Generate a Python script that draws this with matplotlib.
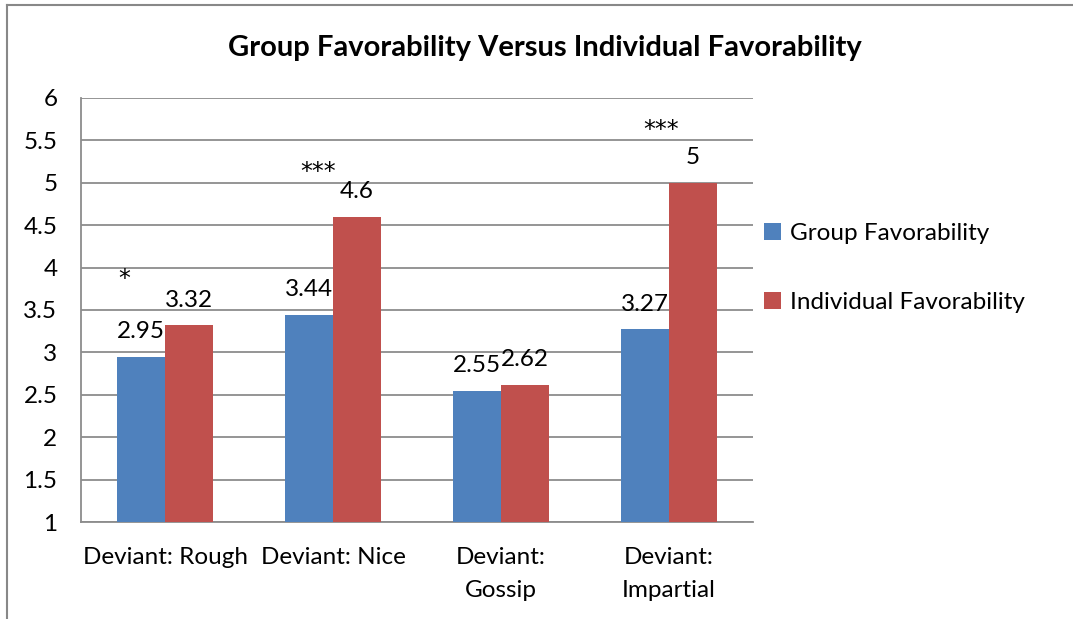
import matplotlib.pyplot as plt
import numpy as np
from matplotlib.lines import Line2D

# chart data
categories = ["Deviant: Rough", "Deviant: Nice", "Deviant:\nGossip", "Deviant:\nImpartial"]
group_fav = [2.95, 3.44, 2.55, 3.27]
indiv_fav = [3.32, 4.6, 2.62, 5.0]
stars = ["*", "***", "", "***"]
star_y = [3.78, 5.04, 0, 5.54]
star_dx = [-0.244, -0.09, 0, -0.05]

BLUE = "#4F81BD"
RED = "#C0504D"
GRID = "#8C8C8C"
FS = 17.5

plt.rcParams['font.family'] = ['Lato', 'DejaVu Sans']

fig = plt.figure(figsize=(10.73, 6.19), dpi=100)
ax = fig.add_axes([0.0755, 0.1567, 0.6263, 0.685])

x = np.arange(len(categories))
w = 0.286
b1 = ax.bar(x - w / 2, np.array(group_fav) - 1, w, bottom=1, color=BLUE, label="Group Favorability", zorder=3)
b2 = ax.bar(x + w / 2, np.array(indiv_fav) - 1, w, bottom=1, color=RED, label="Individual Favorability", zorder=3)

for xi, v in zip(x - w / 2, group_fav):
    ax.annotate("%g" % v, (xi, v), xytext=(0, 13.5), textcoords="offset points",
                ha="center", va="baseline", fontsize=FS)
for xi, v in zip(x + w / 2, indiv_fav):
    ax.annotate("%g" % v, (xi, v), xytext=(0, 13.5), textcoords="offset points",
                ha="center", va="baseline", fontsize=FS)

# significance marks
for xi, s, sy, dx in zip(x, stars, star_y, star_dx):
    if s:
        ax.text(xi + dx, sy, s, ha="center", va="baseline", fontsize=17,
                family="DejaVu Sans")

ax.set_xlim(-0.5, 3.5)
ax.set_ylim(1, 6)
ax.set_yticks(np.arange(1, 6.01, 0.5))
ax.set_yticklabels(["%g" % t for t in np.arange(1, 6.01, 0.5)])
ax.set_xticks(x)
ax.set_xticklabels(categories, linespacing=1.7)
ax.tick_params(axis="y", length=0, pad=17, labelsize=FS)
ax.tick_params(axis="x", length=0, pad=18, labelsize=FS)
ax.yaxis.grid(True, color=GRID, lw=1.3, zorder=0)
ax.set_axisbelow(True)
for s in ["top", "right"]:
    ax.spines[s].set_visible(False)
ax.spines["left"].set_color(GRID)
ax.spines["bottom"].set_color(GRID)
ax.spines["left"].set_linewidth(1.3)
ax.spines["bottom"].set_linewidth(1.3)

fig.text(0.508, 0.922, "Group Favorability Versus Individual Favorability",
         ha="center", va="center", fontsize=21, fontweight="bold")

fig.legend(handles=[b1, b2], loc="center left", bbox_to_anchor=(0.692, 0.567),
           frameon=False, fontsize=FS, handlelength=0.7, handleheight=0.7,
           handletextpad=0.35, labelspacing=1.95)

# outer chart border (partially visible)
fig.add_artist(Line2D([0.0065, 0.0065], [0, 0.992], transform=fig.transFigure, color="#888888", lw=1.5))
fig.add_artist(Line2D([0.0065, 1.0], [0.992, 0.992], transform=fig.transFigure, color="#888888", lw=1.5))

fig.savefig("out.png", dpi=100)
